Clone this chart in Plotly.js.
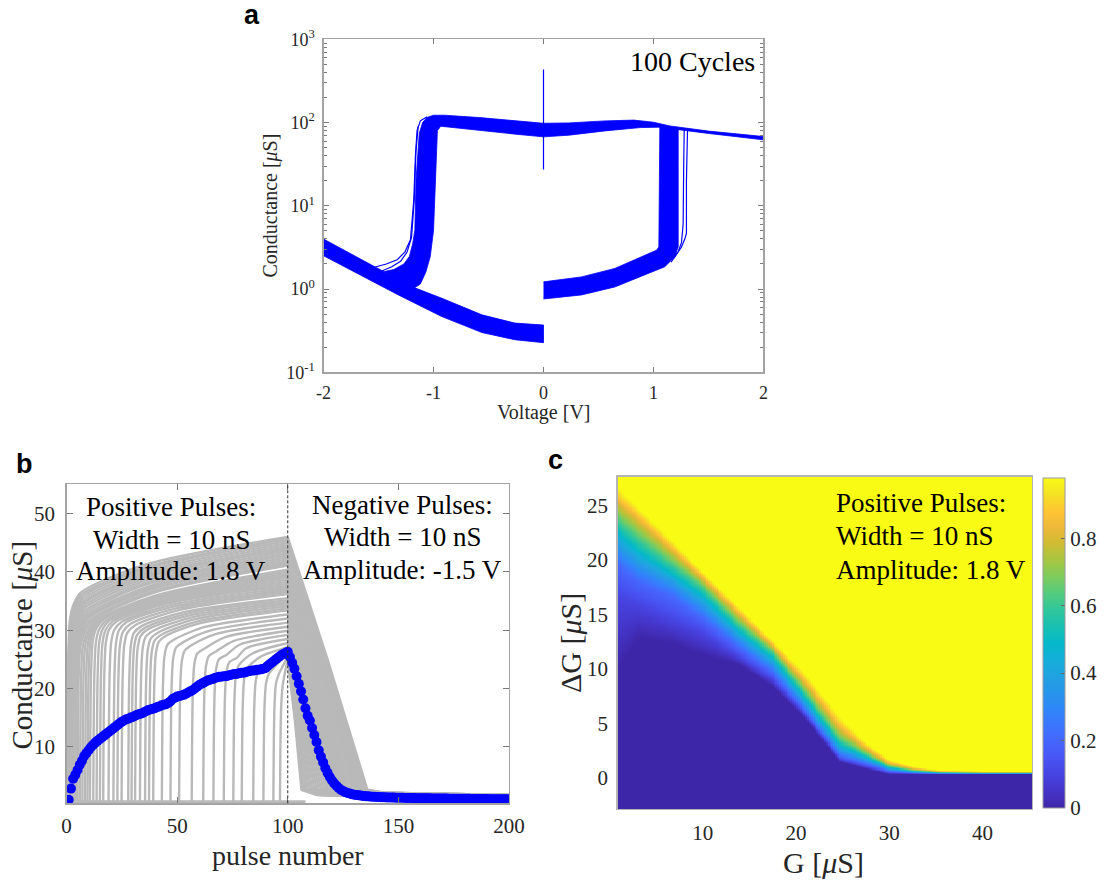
<!DOCTYPE html>
<html><head><meta charset="utf-8">
<script src="https://cdn.plot.ly/plotly-3.0.1.min.js"></script>
<style>body{margin:0;background:#fff}#chart{width:1108px;height:880px}</style>
</head><body><div id="chart"></div>
<script>
// ---------------- Panel a : conductance vs voltage (100 cycles) ----------------
const bandA_V = [-2, -1.75, -1.53, -1.35, -1.2, -0.93, -0.56, -0.26, 0, 0, -0.26, -0.56, -0.93, -1.32, -1.62, -2];
const bandA_G = [3.98, 2.65, 1.84, 1.38, 1.07, 0.78, 0.49, 0.39, 0.37, 0.227, 0.246, 0.30, 0.47, 0.85, 1.36, 2.51];
const bandB_V = [-1.45, -1.36, -1.27, -1.22, -1.19, -1.17, -1.16, -1.14, -1.13, -1.10, -1.06, -1.0, -0.9, -0.58, -0.25, 0, 0.23, 0.56, 0.82, 1.0, 1.15, 1.5, 2.0, 2.0, 1.5, 1.225, 1.05, 0.88, 0.56, 0.23, 0, -0.25, -0.58, -0.935, -0.965, -0.975, -0.985, -1.0, -1.03, -1.07, -1.12, -1.2, -1.32];
const bandB_G = [1.62, 1.72, 2.0, 2.46, 3.5, 5.1, 20, 50, 74, 100, 115, 122.5, 122.5, 114.8, 104.7, 98, 99, 104.7, 107, 101, 91, 79, 68, 62, 74, 82, 88, 87, 79.4, 70.5, 67.3, 72.4, 80.9, 90.3, 80, 40, 20, 5.1, 2.46, 1.6, 1.15, 0.98, 1.25];
const bandC_V = [0, 0.346, 0.649, 0.952, 1.028, 1.049, 1.052, 1.055, 1.058, 1.15, 1.225, 1.225, 1.225, 1.194, 1.103, 0.952, 0.649, 0.346, 0];
const bandC_G = [1.22, 1.40, 1.77, 2.62, 2.93, 3.2, 10, 40, 88.5, 87, 82, 30, 3.2, 2.44, 1.85, 1.54, 1.06, 0.85, 0.76];
const thinLinesV = [
  [-1.53, -1.43, -1.33, -1.26, -1.21, -1.18, -1.165, -1.15, -1.12, -1.06],
  [-1.47, -1.38, -1.30, -1.24, -1.20, -1.175, -1.16, -1.14],
  [1.16, 1.21, 1.255, 1.285, 1.30, 1.30, 1.305, 1.31],
  [1.18, 1.225, 1.255, 1.27, 1.275, 1.28],
  [0, 0]
];
const thinLinesG = [
  [1.84, 2.0, 2.25, 2.8, 3.9, 11.7, 40, 80, 105, 117],
  [1.65, 1.85, 2.15, 2.8, 4.2, 12, 45, 90],
  [2.1, 2.6, 3.2, 4.0, 4.65, 20, 60, 84],
  [2.3, 2.8, 3.6, 6, 30, 85],
  [27.3, 433]
];
const aXTicks = [-2, -1, 0, 1, 2];
const aXTickText = ['-2', '-1', '0', '1', '2'];
const aYTicks = [0.1, 1, 10, 100, 1000];
const aYTickText = ['10<sup>-1</sup>', '10<sup>0</sup>', '10<sup>1</sup>', '10<sup>2</sup>', '10<sup>3</sup>'];

// ---------------- Panel b : pulse response ----------------
// rising part of each gray trace (from its switching pulse to pulse 100)
const grayRiseX = [
 [0.3,0.8,1.5,2.8,6.3,35.2,100], [0.5,1.0,1.7,3.0,6.5,35.3,100], [0.7,1.2,1.9,3.2,6.7,35.5,100],
 [0.9,1.4,2.1,3.4,6.9,35.6,100], [1.1,1.6,2.3,3.6,7.1,35.7,100], [1.35,1.85,2.55,3.85,7.35,35.9,100],
 [1.6,2.1,2.8,4.1,7.6,36.0,100], [1.9,2.4,3.1,4.4,7.9,36.2,100], [2.2,2.7,3.4,4.7,8.2,36.4,100],
 [2.5,3.0,3.7,5.0,8.5,36.6,100], [2.9,3.4,4.1,5.4,8.9,36.9,100], [3.3,3.8,4.5,5.8,9.3,37.1,100],
 [3.8,4.3,5.0,6.3,9.8,37.5,100], [4.4,4.9,5.6,6.9,10.4,37.9,100], [5,5.5,6.2,7.5,11,38.3,100],
 [6.1,6.6,7.3,8.6,12.1,39.0,100], [7.2,7.7,8.4,9.7,13.2,39.7,100], [8.4,8.9,9.6,10.9,14.4,40.5,100],
 [9.5,10,10.7,12,15.5,41.2,100], [10.6,11.1,11.8,13.1,16.6,41.9,100], [12.1,12.6,13.3,14.6,18.1,42.9,100],
 [13.6,14.1,14.8,16.1,19.6,43.8,100], [15.1,15.6,16.3,17.6,21.1,44.8,100], [16.6,17.1,17.8,19.1,22.6,45.8,100],
 [19,19.5,20.2,21.5,25,47.35,100], [21.2,21.7,22.4,23.7,27.2,48.8,100], [23,23.5,24.2,25.5,29,49.95,100],
 [24.9,25.4,26.1,27.4,30.9,51.2,100], [27.9,28.4,29.1,30.4,33.9,53.1,100], [29.4,29.9,30.6,31.9,35.4,54.1,100],
 [31,31.5,32.2,33.5,37,55.2,100], [33.2,33.7,34.4,35.7,39.2,56.6,100], [35.5,36,36.7,38,41.5,58.1,100],
 [37.3,37.8,38.5,39.8,43.3,59.2,100], [39.2,39.7,40.4,41.7,45.2,60.5,100], [43.1,43.6,44.3,45.6,49.1,63.0,100],
 [47,47.5,48.2,49.5,53,65.6,100], [50.9,51.4,52.1,53.4,56.9,68.1,100], [56.6,57.1,57.8,59.1,62.6,71.8,100],
 [61.8,62.3,63,64.3,67.8,75.2,100], [66.4,66.9,67.6,68.9,72.4,78.2,100], [71.1,71.6,72.3,73.6,77.1,81.2,100],
 [75.4,75.9,76.6,77.9,84.0,100], [79.2,79.7,80.4,81.7,88,100], [84.4,84.9,85.6,86.9,92,100],
 [89,89.5,90.2,91.5,95.5,100], [93.5,94,94.7,96,98,100], [96.5,97,97.7,99,100]
];
const grayRiseY = [
 [0.55,25.5,31.6,34,36.4,41.2,46], [0.55,25.2,31.2,33.6,36.0,40.8,45.65], [0.55,24.9,30.9,33.2,35.6,40.5,45.3],
 [0.55,24.6,30.5,32.8,35.2,40.1,44.95], [0.55,24.3,30.1,32.4,34.8,39.7,44.6], [0.55,24,29.8,32,34.5,39.35,44.25],
 [0.55,23.7,29.4,31.6,34.1,39.0,43.9], [0.55,23.4,29.0,31.2,33.7,38.6,43.55], [0.55,23.1,28.6,30.8,33.3,38.2,43.2],
 [0.55,22.8,28.3,30.4,32.9,37.9,42.85], [0.55,22.5,27.9,30,32.5,37.5,42.5], [0.55,22.3,27.6,29.7,32.2,37.2,42.15],
 [0.55,22.1,27.4,29.5,32.0,36.9,41.8], [0.55,21.9,27.2,29.2,31.65,36.55,41.45], [0.55,21.8,27.0,29,31.4,36.3,41.1],
 [0.55,21.8,27.0,29,31.3,35.8,40.4], [0.55,21.9,27.2,29.2,31.4,35.7,40.05], [0.55,22.1,27.4,29.5,31.5,35.6,39.7],
 [0.55,22.4,27.7,29.8,31.7,35.5,39.35], [0.55,22.5,27.9,30,31.8,35.4,39.0], [0.55,22.5,27.9,30,31.7,35.2,38.65],
 [0.55,22.5,27.9,30,31.7,35.0,38.3], [0.55,22.5,27.9,30,31.6,34.8,37.95], [0.55,22.5,27.9,30,31.5,34.6,37.6],
 [0.55,22.5,27.9,30,31.45,34.35,37.25], [0.55,22.5,27.9,30,31.4,34.1,36.9], [0.55,22.3,27.6,29.7,31.1,33.8,36.55],
 [0.55,22.1,27.4,29.5,30.8,33.5,36.2], [0.55,22.1,27.4,29.5,30.7,33.1,35.5], [0.55,21.9,27.2,29.2,30.4,32.8,35.15],
 [0.55,21.8,27.0,29,30.2,32.5,34.8], [0.55,21.6,26.8,28.8,29.9,32.2,34.45], [0.55,21.4,26.5,28.5,29.6,31.9,34.1],
 [0.55,21.2,26.2,28.2,29.3,31.5,33.75], [0.55,21,26,28,29.1,31.2,33.4], [0.55,20.6,25.6,27.5,28.5,30.6,32.7],
 [0.55,20.3,25.1,27,28,30,32], [0.55,19.9,24.6,26.5,27.5,29.4,31.3], [0.55,19.5,24.2,26,26.9,28.8,30.6],
 [0.55,19.1,23.7,25.5,26.4,28.1,29.9], [0.55,18.8,23.3,25,25.8,27.5,29.2], [0.55,18.4,22.8,24.5,25.3,26.9,28.5],
 [0.55,18,22.3,24,26.0,27.8], [0.55,17.6,21.9,23.5,25.5,27.1], [0.55,17.3,21.4,23,24.8,26.5],
 [0.55,16.9,20.9,22.5,24.3,26], [0.55,16.9,20.9,22.5,24.0,25.5], [0.55,16.5,20.5,23.2,25]
];
// falling part of each gray trace (negative pulses, pulse 100 to 200)
const grayFallX = [
 [100,118,136,144,200], [100,117.75,135.5,143.5,200], [100,117.5,135,143,200],
 [100,117.25,134.5,142.5,200], [100,117,134,142,200], [100,116.75,133.5,141.5,200],
 [100,116.5,133,141,200], [100,116.25,132.5,140.5,200], [100,116,132,140,200],
 [100,115.75,131.5,139.5,200], [100,115.5,131,139,200], [100,115.25,130.5,138.5,200],
 [100,115,130,138,200], [100,114.75,129.5,137.5,200], [100,114.5,129,137,200],
 [100,114,128,136,200], [100,113.75,127.5,135.5,200], [100,113.5,127,135,200],
 [100,113.25,126.5,134.5,200], [100,113,126,134,200], [100,112.75,125.5,133.5,200],
 [100,112.5,125,133,200], [100,112.25,124.5,132.5,200], [100,112,124,132,200],
 [100,111.75,123.5,131.5,200], [100,111.5,123,131,200], [100,111.25,122.5,130.5,200],
 [100,111,122,130,200], [100,110.5,121,129,200], [100,110.25,120.5,128.5,200],
 [100,110,120,128,200], [100,109.75,119.5,127.5,200], [100,109.5,119,127,200],
 [100,109.25,118.5,126.5,200], [100,109,118,126,200], [100,108.5,117,125,200],
 [100,108,116,124,200], [100,107.5,115,123,200], [100,107,114,122,200],
 [100,106.5,113,121,200], [100,106,112,120,200], [100,105.5,111,119,200],
 [100,105,110,118,200], [100,104.5,109,117,200], [100,104,108.1,116,200],
 [100,103.7,107.4,115,200], [100,103.4,106.7,114,200], [100,103.2,106.2,113,200]
];
const grayFallY = [
 [46,25,2.6,2.1,1.7], [45.65,24.8,2.6,2.1,1.7], [45.3,24.65,2.6,2.1,1.7],
 [44.95,24.5,2.6,2.1,1.7], [44.6,24.3,2.6,2.1,1.7], [44.25,24.1,2.6,2.1,1.7],
 [43.9,23.95,2.6,2.1,1.7], [43.55,23.8,2.6,2.1,1.65], [43.2,23.6,2.6,2.1,1.65],
 [42.85,23.4,2.6,2.1,1.65], [42.5,23.25,2.6,2.1,1.65], [42.15,23.1,2.6,2.0,1.6],
 [41.8,22.9,2.6,2.0,1.6], [41.45,22.7,2.6,2.0,1.6], [41.1,22.55,2.6,2.0,1.6],
 [40.4,22.2,2.6,2.0,1.6], [40.05,22.0,2.6,2.0,1.55], [39.7,21.85,2.6,2.0,1.55],
 [39.35,21.7,2.6,1.9,1.55], [39,21.5,2.6,1.9,1.55], [38.65,21.3,2.6,1.9,1.5],
 [38.3,21.15,2.6,1.9,1.5], [37.95,21.0,2.6,1.9,1.5], [37.6,20.8,2.6,1.9,1.5],
 [37.25,20.6,2.6,1.9,1.5], [36.9,20.45,2.6,1.9,1.5], [36.55,20.3,2.6,1.85,1.45],
 [36.2,20.1,2.6,1.85,1.45], [35.5,19.75,2.6,1.85,1.45], [35.15,19.6,2.6,1.85,1.45],
 [34.8,19.4,2.6,1.85,1.45], [34.45,19.2,2.6,1.8,1.4], [34.1,19.05,2.6,1.8,1.4],
 [33.75,18.9,2.6,1.8,1.4], [33.4,18.7,2.6,1.8,1.4], [32.7,18.35,2.6,1.8,1.4],
 [32,18,2.6,1.8,1.4], [31.3,17.65,2.6,1.75,1.35], [30.6,17.3,2.6,1.75,1.35],
 [29.9,16.95,2.6,1.75,1.35], [29.2,16.6,2.6,1.7,1.3], [28.5,16.25,2.6,1.7,1.3],
 [27.8,15.9,2.6,1.7,1.3], [27.1,15.55,2.6,1.7,1.3], [26.5,15.25,2.6,1.7,1.3],
 [26,15,2.6,1.7,1.3], [25.5,14.75,2.6,1.7,1.3], [25,14.5,2.6,1.7,1.3]
];
const grayBaseX = [0, 108];
const grayBaseY = [0.55, 0.55];
const meanG = [
 0.9, 2.8, 4.5, 5.2, 6.0, 6.9, 7.6, 8.4, 8.9, 9.4,
 9.9, 10.3, 10.7, 11.0, 11.3, 11.6, 11.9, 12.2, 12.5, 12.8,
 13.1, 13.4, 13.7, 14.0, 14.3, 14.5, 14.7, 14.8, 15.0, 15.1,
 15.3, 15.5, 15.6, 15.7, 15.9, 16.1, 16.3, 16.4, 16.5, 16.6,
 16.8, 16.9, 17.1, 17.2, 17.3, 17.5, 17.8, 18.2, 18.4, 18.6,
 18.7, 18.8, 18.9, 19.1, 19.3, 19.5, 19.7, 20.0, 20.3, 20.6,
 20.8, 21.0, 21.2, 21.4, 21.5, 21.6, 21.8, 21.9, 22.0, 22.0,
 22.1, 22.1, 22.2, 22.3, 22.4, 22.5, 22.5, 22.6, 22.7, 22.7,
 22.8, 22.9, 23.0, 23.1, 23.1, 23.2, 23.2, 23.3, 23.4, 23.5,
 23.9, 24.2, 24.5, 24.8, 25.1, 25.4, 25.7, 25.9, 26.1, 26.3,
 25.4, 24.4, 23.4, 22.1, 20.8, 19.5, 18.1, 16.6, 15.3, 14.5,
 13.2, 12.0, 10.8, 9.4, 8.3, 7.3, 6.3, 5.5, 4.8, 4.2,
 3.7, 3.3, 2.9, 2.6, 2.4, 2.2, 2.05, 1.95, 1.85, 1.75,
 1.7, 1.65, 1.6, 1.55, 1.5, 1.47, 1.44, 1.42, 1.40, 1.38,
 1.36, 1.34, 1.32, 1.30, 1.29, 1.28, 1.27, 1.26, 1.25, 1.24,
 1.23, 1.22, 1.21, 1.20, 1.19, 1.18, 1.17, 1.16, 1.15, 1.15,
 1.14, 1.14, 1.13, 1.13, 1.12, 1.12, 1.11, 1.11, 1.10, 1.10,
 1.09, 1.09, 1.08, 1.08, 1.07, 1.07, 1.06, 1.06, 1.05, 1.05,
 1.04, 1.04, 1.03, 1.03, 1.02, 1.02, 1.01, 1.01, 1.00, 1.00,
 0.99, 0.99, 0.99, 0.98, 0.98, 0.98, 0.97, 0.97, 0.97, 0.97
];
const pulseNumber = meanG.map((v, i) => i + 1);
const bXTicks = [0, 50, 100, 150, 200];
const bYTicks = [10, 20, 30, 40, 50];
const pulseSwitch = 100;

// ---------------- Panel c : switching probability map ----------------
const cG = [0.9, 3, 6.7, 10, 13.9, 17.5, 21.0, 24.7, 27.5, 30.0, 32.5, 35.3, 40, 45.3];
const pLevels = [0, 0.1, 0.2, 0.35, 0.5, 0.65, 0.8, 0.9, 0.98];
const dG_p00 = [9.9, 12.8, 12.4, 11.3, 10.4, 8.4, 5.4, 1.45, 0.8, 0.35, 0.32, 0.3, 0.3, 0.3];
const dG_p10 = [16.6, 16.0, 14.5, 13.3, 11.1, 9.0, 5.8, 1.7, 1.0, 0.45, 0.38, 0.33, 0.32, 0.32];
const dG_p20 = [19.5, 18.0, 16.6, 14.6, 11.9, 9.6, 6.1, 2.0, 1.25, 0.6, 0.45, 0.37, 0.35, 0.35];
const dG_p35 = [21.2, 19.6, 17.9, 15.8, 12.8, 10.4, 6.7, 2.5, 1.6, 0.75, 0.52, 0.42, 0.39, 0.39];
const dG_p50 = [22.6, 21.0, 18.8, 16.8, 13.5, 11.0, 7.3, 3.0, 1.9, 0.9, 0.6, 0.47, 0.43, 0.43];
const dG_p65 = [23.9, 22.3, 19.8, 17.6, 14.2, 11.6, 7.9, 3.6, 2.2, 1.05, 0.68, 0.52, 0.47, 0.47];
const dG_p80 = [25.2, 23.6, 20.8, 18.2, 14.9, 12.0, 8.6, 4.4, 2.6, 1.25, 0.8, 0.57, 0.51, 0.51];
const dG_p90 = [25.9, 24.3, 21.3, 18.6, 15.3, 12.3, 9.1, 5.0, 2.9, 1.45, 0.9, 0.62, 0.55, 0.55];
const dG_p98 = [26.7, 24.9, 21.8, 18.9, 15.7, 12.6, 9.6, 5.6, 3.2, 1.65, 1.0, 0.68, 0.6, 0.6];
const cXTicks = [10, 20, 30, 40];
const cYTicks = [0, 5, 10, 15, 20, 25];
const cbTicks = [0, 0.2, 0.4, 0.6, 0.8];
const cbTickText = ['0', '0.2', '0.4', '0.6', '0.8'];
const parula = [
 [0.00,'rgb(62,38,168)'],[0.05,'rgb(68,52,199)'],[0.10,'rgb(71,67,225)'],[0.15,'rgb(72,84,243)'],
 [0.20,'rgb(69,101,252)'],[0.25,'rgb(60,117,254)'],[0.30,'rgb(47,134,248)'],[0.35,'rgb(39,149,235)'],
 [0.40,'rgb(33,162,225)'],[0.45,'rgb(20,174,217)'],[0.50,'rgb(5,184,200)'],[0.55,'rgb(25,192,178)'],
 [0.60,'rgb(48,198,155)'],[0.65,'rgb(83,203,125)'],[0.70,'rgb(125,204,94)'],[0.75,'rgb(167,198,66)'],
 [0.80,'rgb(206,188,50)'],[0.85,'rgb(238,184,58)'],[0.90,'rgb(254,197,50)'],[0.95,'rgb(245,225,36)'],
 [1.00,'rgb(249,251,21)']
];

// ---------------- helpers ----------------
const W = 1108, H = 880;
const px = v => v / W;
const py = v => 1 - v / H;
const SERIF = 'Liberation Serif';
const TXT = '#262626';
const BOX = '#a3a3a3';
const TICK = '#7a7a7a';
const GRAY = '#b9b9b9';

function lerp(xs, ys, x) {
  if (x <= xs[0]) return ys[0];
  for (let k = 0; k < xs.length - 1; k++) {
    if (x <= xs[k + 1]) return ys[k] + (ys[k + 1] - ys[k]) * (x - xs[k]) / (xs[k + 1] - xs[k]);
  }
  return ys[ys.length - 1];
}

// heatmap grid built from the level-edge tables
const levelEdges = [dG_p00, dG_p10, dG_p20, dG_p35, dG_p50, dG_p65, dG_p80, dG_p90, dG_p98];
const hmG = [], hmDG = [];
for (let i = 0; i <= 222; i++) hmG.push(+(0.9 + i * 0.2).toFixed(2));
for (let i = 0; i <= 306; i++) hmDG.push(+(-2.9 + i * 0.1).toFixed(2));
const edgesAtCol = hmG.map(g => levelEdges.map(a => lerp(cG, a, g)));
const hmZ = hmDG.map(d => edgesAtCol.map(e => {
  if (d <= e[0]) return 0;
  if (d >= e[e.length - 1]) return pLevels[pLevels.length - 1];
  for (let k = 0; k < e.length - 1; k++) {
    if (d < e[k + 1]) return pLevels[k] + (pLevels[k + 1] - pLevels[k]) * (d - e[k]) / (e[k + 1] - e[k]);
  }
  return pLevels[pLevels.length - 1];
}));

// ---------------- traces ----------------
const traces = [];
const blue = '#0000ff';
[[bandA_V, bandA_G], [bandB_V, bandB_G], [bandC_V, bandC_G]].forEach(([v, g]) => {
  traces.push({type: 'scatter', mode: 'lines', x: v, y: g, fill: 'toself', fillcolor: blue,
    line: {color: blue, width: 0.8}, xaxis: 'x', yaxis: 'y', hoverinfo: 'skip'});
});
thinLinesV.forEach((v, i) => {
  traces.push({type: 'scatter', mode: 'lines', x: v, y: thinLinesG[i],
    line: {color: blue, width: 1.2}, xaxis: 'x', yaxis: 'y', hoverinfo: 'skip'});
});
traces.push({type: 'scatter', mode: 'lines', x: grayBaseX, y: grayBaseY,
  line: {color: GRAY, width: 3}, xaxis: 'x2', yaxis: 'y2', hoverinfo: 'skip'});
grayRiseX.forEach((xs, i) => {
  traces.push({type: 'scatter', mode: 'lines', x: xs, y: grayRiseY[i],
    line: {color: GRAY, width: 2.4, shape: 'spline', smoothing: 0.8}, xaxis: 'x2', yaxis: 'y2', hoverinfo: 'skip'});
});
grayFallX.forEach((xs, i) => {
  traces.push({type: 'scatter', mode: 'lines', x: xs, y: grayFallY[i],
    line: {color: GRAY, width: 2.4}, xaxis: 'x2', yaxis: 'y2', hoverinfo: 'skip'});
});
traces.push({type: 'scatter', mode: 'markers', x: pulseNumber, y: meanG,
  marker: {color: blue, size: 10, line: {width: 0}}, xaxis: 'x2', yaxis: 'y2', hoverinfo: 'skip'});
traces.push({type: 'heatmap', x: hmG, y: hmDG, z: hmZ, zmin: 0, zmax: 0.98, colorscale: parula,
  xaxis: 'x3', yaxis: 'y3', hoverinfo: 'skip', zsmooth: false,
  colorbar: {x: px(1043), xanchor: 'left', y: py(807.7), yanchor: 'bottom',
    len: 330.4 / H, lenmode: 'fraction', thickness: 22, thicknessmode: 'pixels',
    xpad: 0, ypad: 0, outlinewidth: 1, outlinecolor: '#9a9a9a',
    tickvals: cbTicks, ticktext: cbTickText, ticks: 'inside', ticklen: 4, tickcolor: '#666',
    tickfont: {family: SERIF, size: 21, color: TXT}}});

// ---------------- axes ----------------
function axisBase(extra) {
  return Object.assign({showgrid: false, zeroline: false, showline: true, linecolor: BOX, linewidth: 1.3,
    mirror: 'ticks', ticks: 'inside', ticklen: 5, tickwidth: 1, tickcolor: TICK,
    tickfont: {family: SERIF, size: 18, color: TXT}, fixedrange: true}, extra);
}
const minorLog = [];
[0.1, 1, 10, 100].forEach(d => { for (let m = 2; m <= 9; m++) minorLog.push(d * m); });

const layout = {
  width: W, height: H, margin: {l: 0, r: 0, t: 0, b: 0},
  paper_bgcolor: '#fff', plot_bgcolor: '#fff', showlegend: false, hovermode: false,
  font: {family: SERIF, color: TXT},
  xaxis: axisBase({domain: [px(323.6), px(763.4)], anchor: 'y', range: [-2, 2],
    tickvals: aXTicks, ticktext: aXTickText, ticklabelstandoff: 4}),
  yaxis: axisBase({domain: [py(372.3), py(39.3)], anchor: 'x', type: 'log', range: [-1, 3],
    tickvals: aYTicks, ticktext: aYTickText, ticklabelstandoff: 4,
    minor: {tickvals: minorLog, ticks: 'inside', ticklen: 3, tickcolor: TICK, tickwidth: 1}}),
  xaxis2: axisBase({domain: [px(66.5), px(509)], anchor: 'y2', range: [0, 200],
    tickvals: bXTicks, ticklen: 6, ticklabelstandoff: 3,
    tickfont: {family: SERIF, size: 21, color: TXT}}),
  yaxis2: axisBase({domain: [py(803.3), py(484.3)], anchor: 'x2', range: [0.28, 55.05],
    tickvals: bYTicks, ticklen: 6, ticklabelstandoff: 6,
    tickfont: {family: SERIF, size: 21, color: TXT}}),
  xaxis3: axisBase({domain: [px(617.5), px(1032)], anchor: 'y3', range: [0.87, 45.3],
    tickvals: cXTicks, ticks: '', linecolor: '#b5b5b5', mirror: true, ticklabelstandoff: 4,
    tickfont: {family: SERIF, size: 21, color: TXT}}),
  yaxis3: axisBase({domain: [py(809), py(476.7)], anchor: 'x3', range: [-2.88, 27.67],
    tickvals: cYTicks, ticks: '', linecolor: '#b5b5b5', mirror: true, ticklabelstandoff: 4,
    tickfont: {family: SERIF, size: 21, color: TXT}}),
  shapes: [{type: 'line', xref: 'x2', yref: 'y2 domain', x0: pulseSwitch, x1: pulseSwitch, y0: 0, y1: 1,
    line: {color: '#333', width: 1, dash: '3px,2px'}, layer: 'above'}],
  annotations: []
};

function ann(text, x, y, size, opt) {
  layout.annotations.push(Object.assign({text: text, x: px(x), y: py(y), xref: 'paper', yref: 'paper',
    showarrow: false, xanchor: 'center', yanchor: 'middle',
    font: {family: SERIF, size: size, color: '#000'}}, opt || {}));
}
// panel letters
const BOLD = {family: 'Liberation Sans', size: 27, color: '#000', weight: 'bold'};
ann('a', 252, 15.5, 27, {font: BOLD});
ann('b', 24, 463.8, 27, {font: BOLD});
ann('c', 555, 459.8, 27, {font: BOLD});
// axis titles
ann('Voltage [V]', 543.6, 413, 20, {font: {family: SERIF, size: 20, color: TXT}});
ann('Conductance [<i>μ</i>S]', 270, 205.5, 20, {textangle: -90, font: {family: SERIF, size: 20, color: TXT}});
ann('pulse number', 287.5, 855, 28, {font: {family: SERIF, size: 28, color: TXT}});
ann('Conductance [<i>μ</i>S]', 21.5, 645, 29, {textangle: -90, font: {family: SERIF, size: 29, color: TXT}});
ann('G [<i>μ</i>S]', 823.5, 862, 30, {font: {family: SERIF, size: 30, color: TXT}});
ann('ΔG [<i>μ</i>S]', 570, 643, 30, {textangle: -90, font: {family: SERIF, size: 30, color: TXT}});
// in-plot texts
ann('100 Cycles', 756.8, 62, 28, {xanchor: 'right'});
const posLines = ['Positive Pulses:', 'Width = 10 nS', 'Amplitude: 1.8 V'];
const negLines = ['Negative Pulses:', 'Width = 10 nS', 'Amplitude: -1.5 V'];
[516, 548.3, 580].forEach((b, i) => ann(posLines[i], 171.3, b - 8.6, 27));
[513.3, 546, 578.3].forEach((b, i) => ann(negLines[i], 402, b - 8.6, 27));
[511.7, 545, 578.3].forEach((b, i) => ann(posLines[i], 833.5, b - 8.6, 27, {xanchor: 'left'}));

Plotly.newPlot('chart', traces, layout, {staticPlot: true, displayModeBar: false});
</script></body></html>
